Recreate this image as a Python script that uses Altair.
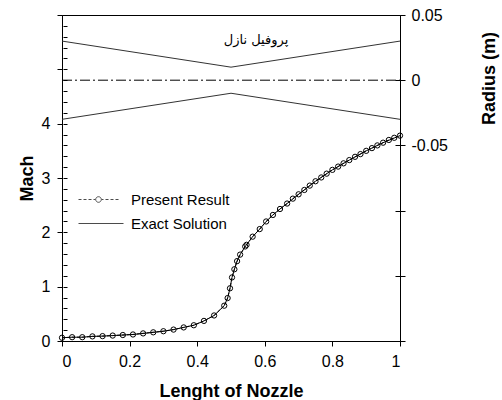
import altair as alt
import pandas as pd

# ---------------- data ----------------
x_present = [0.00, 0.03, 0.06, 0.09, 0.12, 0.15, 0.18, 0.21, 0.24, 0.27, 0.30,
             0.33, 0.36, 0.39, 0.42, 0.45, 0.48, 0.49, 0.497, 0.503, 0.51,
             0.518, 0.527, 0.542, 0.546, 0.564, 0.585, 0.604, 0.624, 0.645,
             0.666, 0.683, 0.700, 0.717, 0.733, 0.750, 0.767, 0.783, 0.800,
             0.817, 0.833, 0.850, 0.867, 0.883, 0.900, 0.917, 0.933, 0.950,
             0.967, 0.983, 1.000]
mach_present = [0.06, 0.07, 0.07, 0.085, 0.09, 0.10, 0.11, 0.12, 0.14, 0.16, 0.18,
                0.21, 0.25, 0.29, 0.37, 0.47, 0.65, 0.79, 0.97, 1.17, 1.32,
                1.47, 1.59, 1.74, 1.77, 1.92, 2.06, 2.20, 2.32, 2.43,
                2.53, 2.62, 2.70, 2.78, 2.86, 2.94, 3.01, 3.08, 3.15,
                3.21, 3.27, 3.33, 3.39, 3.44, 3.50, 3.55, 3.60, 3.65,
                3.70, 3.74, 3.78]

x_exact = [0.00, 0.03, 0.06, 0.09, 0.12, 0.15, 0.18, 0.21, 0.24, 0.27, 0.30,
           0.33, 0.36, 0.39, 0.42, 0.45, 0.48, 0.49, 0.497, 0.503, 0.51,
           0.518, 0.527, 0.542, 0.564, 0.585, 0.604, 0.624, 0.645,
           0.666, 0.700, 0.750, 0.800, 0.850, 0.900, 0.950, 1.000]
mach_exact = [0.06, 0.07, 0.07, 0.085, 0.09, 0.10, 0.11, 0.12, 0.14, 0.16, 0.18,
              0.21, 0.25, 0.29, 0.37, 0.47, 0.65, 0.79, 0.97, 1.17, 1.32,
              1.47, 1.59, 1.74, 1.92, 2.06, 2.20, 2.32, 2.43,
              2.53, 2.70, 2.94, 3.15, 3.33, 3.50, 3.65, 3.78]

x_wall = [0.0, 0.5, 1.0]
r_upper = [0.03, 0.01, 0.03]
r_lower = [-0.03, -0.01, -0.03]
x_center = [0.0, 1.0]
r_center = [0.0, 0.0]

profile_label = ["پروفیل نازل"]
profile_x = [0.574]
profile_r = [0.031]

series_names = ["Present Result", "Exact Solution"]

x_ticks = [0, 0.2, 0.4, 0.6, 0.8, 1]
mach_ticks = [0, 1, 2, 3, 4, 5, 6]
mach_minor = [round(i * 0.2, 1) for i in range(31)]
radius_ticks = [-0.2, -0.15, -0.1, -0.05, 0, 0.05]

# ---------------- frames ----------------
df_present = pd.DataFrame({"x": x_present, "mach": mach_present,
                           "series": series_names[0]})
df_exact = pd.DataFrame({"x": x_exact, "mach": mach_exact})
df_wall = pd.DataFrame({
    "x": x_wall + x_wall,
    "r": r_upper + r_lower,
    "wall": ["upper"] * len(x_wall) + ["lower"] * len(x_wall),
})
df_center = pd.DataFrame({"x": x_center, "r": r_center})
df_label = pd.DataFrame({"x": profile_x, "r": profile_r, "label": profile_label})

FONT = "Liberation Sans"

x_scale = alt.Scale(domain=[0, 1], nice=False, zero=False)
x_axis = alt.Axis(values=x_ticks, labelExpr="toString(datum.value)", tickSize=5,
                  labelPadding=7, title="Lenght of Nozzle", titleY=55,
                  titleBaseline="alphabetic", grid=False)
X = alt.X("x:Q", scale=x_scale, axis=x_axis)

mach_scale = alt.Scale(domain=[0, 6], nice=False, zero=False)
rad_scale = alt.Scale(domain=[-0.2, 0.05], nice=False, zero=False)

mach_axis_main = alt.Axis(orient="left", values=mach_ticks,
                          labelExpr="datum.value <= 4 ? toString(datum.value) : ''",
                          tickSize=5, labelPadding=7, grid=False,
                          title="Mach", titleAngle=270, titleX=-30, titleY=163,
                          titleAlign="center", titleBaseline="alphabetic")
mach_axis_minor = alt.Axis(orient="left", offset=-5, values=mach_minor,
                           labels=False, domain=False, tickSize=4, grid=False,
                           title=None)

rad_axis_main = alt.Axis(orient="right", values=radius_ticks,
                         labelExpr="datum.value >= -0.06 ? toString(datum.value) : ''",
                         tickSize=5, labelPadding=6, grid=False,
                         title="Radius (m)", titleAngle=270, titleX=94, titleY=63,
                         titleAlign="center", titleBaseline="alphabetic")
rad_axis_inner = alt.Axis(orient="right", offset=-5, values=radius_ticks,
                          labels=False, domain=False, tickSize=5, grid=False,
                          title=None)

# legend symbol paths (unit box scaled by sqrt(size)/2 = 10 px)
path_present = ("M-2,0L-1.7,0M-1.5,0L-1.2,0M-1,0L-0.7,0M-0.5,0L-0.3,0"
                "M0.3,0L0.5,0M0.7,0L1,0M1.2,0L1.5,0M1.7,0L2,0"
                "M0.28,0A0.28,0.28,0,1,1,-0.28,0A0.28,0.28,0,1,1,0.28,0")
path_exact = "M-2,0L2.5,0"

# ---------------- Mach layers ----------------
exact = alt.Chart(df_exact).mark_line(color="black", strokeWidth=1).encode(
    x=X, y=alt.Y("mach:Q", scale=mach_scale, axis=mach_axis_main))

present_line = alt.Chart(df_present).mark_line(
    color="black", strokeWidth=1, strokeDash=[3, 2]).encode(
    x=X, y=alt.Y("mach:Q", scale=mach_scale, axis=mach_axis_minor))

present_pts = alt.Chart(df_present).mark_point(
    shape="circle", size=28, filled=False, color="black", strokeWidth=1,
    opacity=1).encode(
    x=X, y=alt.Y("mach:Q", scale=mach_scale, axis=None))

legend_layer = alt.Chart(df_present).transform_filter("false").mark_point(
    filled=False, color="black", strokeWidth=1).encode(
    x=X, y=alt.Y("mach:Q", scale=mach_scale, axis=None),
    shape=alt.Shape("series:N",
                    scale=alt.Scale(domain=series_names,
                                    range=[path_present, path_exact]),
                    legend=alt.Legend(orient="none", legendX=26, legendY=174,
                                      title=None, padding=0, symbolSize=400,
                                      symbolStrokeColor="black",
                                      symbolFillColor="transparent",
                                      symbolStrokeWidth=1, labelOffset=22,
                                      rowPadding=5, labelFontSize=15,
                                      labelFont=FONT, labelColor="black")))

mach_layer = alt.layer(exact, present_line, present_pts, legend_layer).resolve_axis(
    y="independent")

# ---------------- Radius layers ----------------
walls = alt.Chart(df_wall).mark_line(color="#333333", strokeWidth=1).encode(
    x=X, y=alt.Y("r:Q", scale=rad_scale, axis=rad_axis_main), detail="wall:N")

center = alt.Chart(df_center).mark_line(
    color="black", strokeWidth=1, strokeDash=[10, 3, 2, 3]).encode(
    x=X, y=alt.Y("r:Q", scale=rad_scale, axis=rad_axis_inner))

label = alt.Chart(df_label).mark_text(
    font="DejaVu Sans", fontSize=13, color="black", baseline="middle").encode(
    x=X, y=alt.Y("r:Q", scale=rad_scale, axis=None), text="label:N")

rad_layer = alt.layer(walls, center, label).resolve_axis(y="independent")

chart = alt.layer(mach_layer, rad_layer).resolve_scale(y="independent").properties(
    width=338, height=326,
    padding={"left": 62, "top": 15, "right": 102, "bottom": 59},
    autosize=alt.AutoSizeParams(type="none"),
    background="white",
).configure_view(stroke="black", strokeWidth=1).configure_axis(
    labelFont=FONT, labelFontSize=16, labelColor="black",
    titleFont=FONT, titleFontSize=18, titleFontWeight="bold", titleColor="black",
    domainColor="black", tickColor="black", domainWidth=1, tickWidth=1,
)

chart.save("out.html", embed_options={"renderer": "svg", "actions": False})
